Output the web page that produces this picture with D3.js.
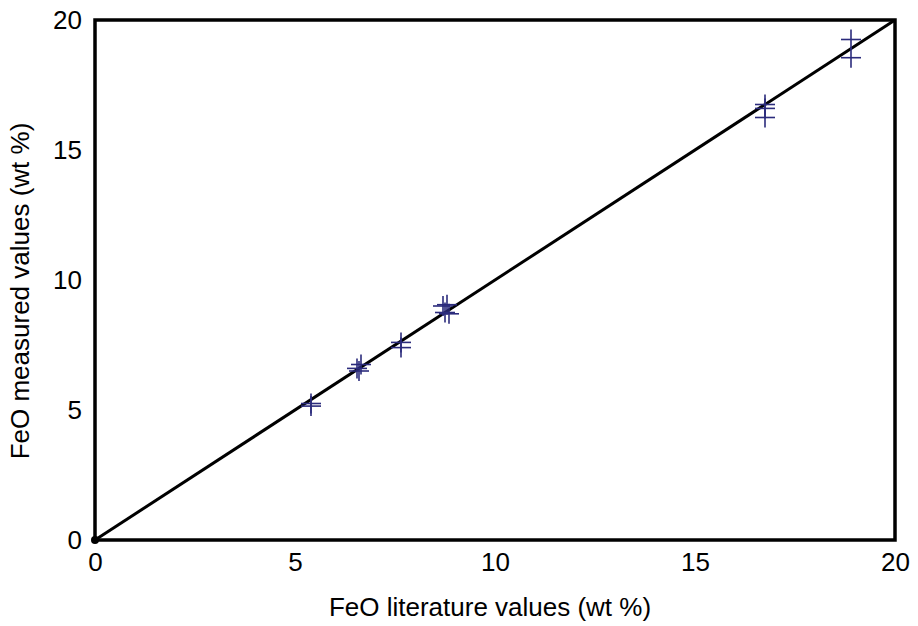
<!DOCTYPE html>
<html>
<head>
<meta charset="utf-8">
<script src="https://cdn.jsdelivr.net/npm/d3@7"></script>
<style>
  html, body { margin: 0; padding: 0; background: #fff; }
  svg { display: block; font-family: "Liberation Sans", Arial, sans-serif; }
</style>
</head>
<body>
<svg id="chart" width="918" height="626"></svg>
<script>
// FeO literature vs measured values (wt %)
const literature = [5.4, 5.4, 6.65, 6.55, 6.6, 7.65, 7.65, 8.7, 8.8, 8.75, 8.85, 16.75, 16.75, 16.75, 18.9, 18.9];
const measured   = [5.25, 5.15, 6.75, 6.6, 6.5, 7.6, 7.4, 9.0, 9.05, 8.75, 8.7, 16.75, 16.6, 16.25, 19.25, 18.55];
const tickValues = [0, 5, 10, 15, 20];
const domain = [0, 20];

const svg = d3.select("#chart");
const margin = { left: 95, right: 23, top: 20, bottom: 86 };
const W = 918, H = 626;

const x = d3.scaleLinear().domain(domain).range([margin.left, W - margin.right]);
const y = d3.scaleLinear().domain(domain).range([H - margin.bottom, margin.top]);

// 1:1 reference line
svg.append("line")
  .attr("x1", x(domain[0])).attr("y1", y(domain[0]))
  .attr("x2", x(domain[1])).attr("y2", y(domain[1]))
  .attr("stroke", "#000").attr("stroke-width", 3);

// cross markers
const s = 10;
const marks = svg.append("g").attr("stroke", "#2b2b7c").attr("stroke-width", 1.6);
literature.forEach((lv, i) => {
  const cx = x(lv), cy = y(measured[i]);
  marks.append("line").attr("x1", cx - s).attr("x2", cx + s).attr("y1", cy).attr("y2", cy);
  marks.append("line").attr("x1", cx).attr("x2", cx).attr("y1", cy - s).attr("y2", cy + s);
});

// plot frame
svg.append("rect")
  .attr("x", x(0)).attr("y", y(20))
  .attr("width", x(20) - x(0)).attr("height", y(0) - y(20))
  .attr("fill", "none").attr("stroke", "#000").attr("stroke-width", 3.5);

// origin point
svg.append("circle").attr("cx", x(0)).attr("cy", y(0)).attr("r", 4).attr("fill", "#000");

// axes (labels only, no tick marks)
const xAxis = svg.append("g")
  .attr("transform", `translate(0,${y(0)})`)
  .call(d3.axisBottom(x).tickValues(tickValues).tickSize(0).tickPadding(13).tickFormat(d3.format("d")));
const yAxis = svg.append("g")
  .attr("transform", `translate(${x(0)},0)`)
  .call(d3.axisLeft(y).tickValues(tickValues).tickSize(0).tickPadding(13).tickFormat(d3.format("d")));
[xAxis, yAxis].forEach(g => {
  g.select(".domain").remove();
  g.selectAll("text").attr("font-size", 26).attr("fill", "#000")
    .attr("font-family", "'Liberation Sans', Arial, sans-serif");
});

// axis titles
svg.append("text")
  .attr("x", 490).attr("y", 616)
  .attr("text-anchor", "middle").attr("font-size", 26).attr("fill", "#000")
  .text("FeO literature values (wt %)");
svg.append("text")
  .attr("transform", `translate(29,291) rotate(-90)`)
  .attr("text-anchor", "middle").attr("font-size", 26).attr("fill", "#000")
  .text("FeO measured values (wt %)");
</script>
</body>
</html>
